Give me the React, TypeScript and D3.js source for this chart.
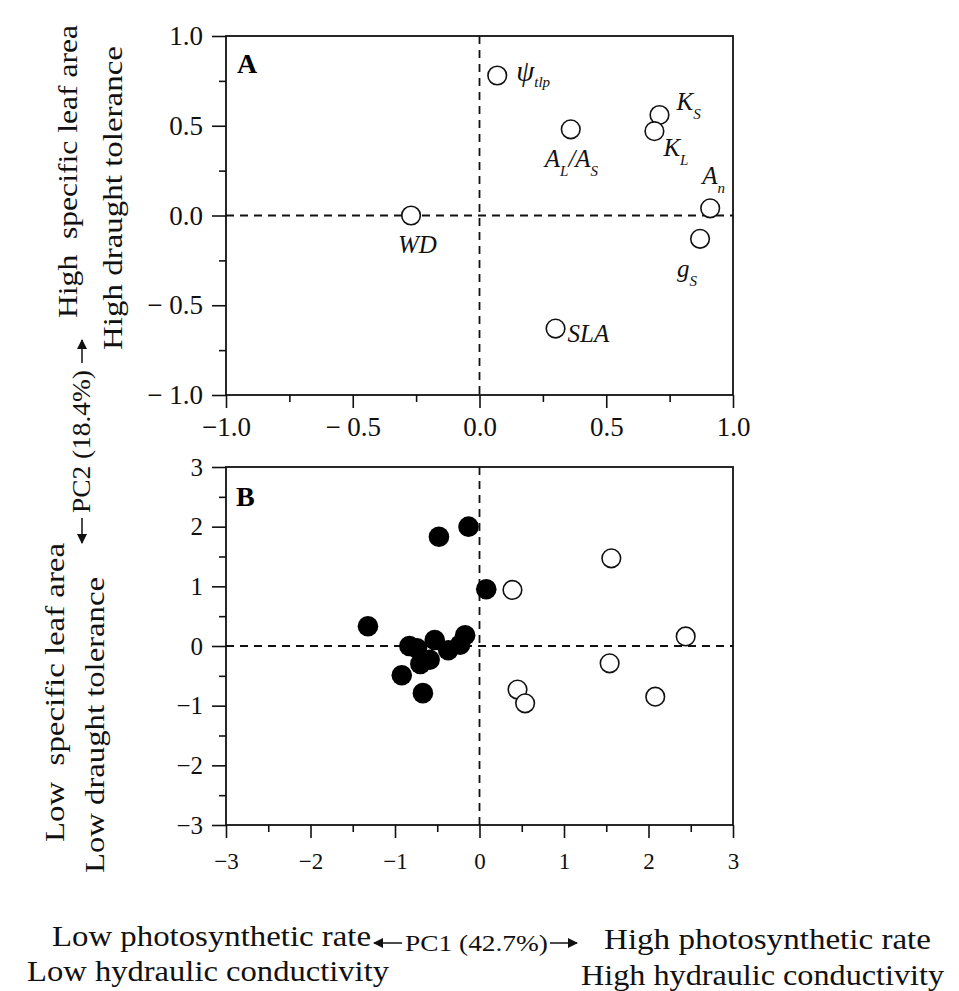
import React, { useEffect, useRef } from 'react';
import * as d3 from 'd3';

// Panel A: trait loadings on PC1 / PC2
const traitKeys = ['psi', 'KS', 'KL', 'ALAS', 'An', 'gS', 'WD', 'SLA'];
const loadingPC1 = [0.07, 0.71, 0.69, 0.36, 0.91, 0.87, -0.27, 0.30];
const loadingPC2 = [0.78, 0.56, 0.47, 0.48, 0.04, -0.13, 0.0, -0.63];
// label text pieces: [text, isSubscript]
const traitLabels: Record<string, [string, boolean][]> = {
  psi: [['ψ', false], ['tlp', true]],
  KS: [['K', false], ['S', true]],
  KL: [['K', false], ['L', true]],
  ALAS: [['A', false], ['L', true], ['/', false], ['A', false], ['S', true]],
  An: [['A', false], ['n', true]],
  gS: [['g', false], ['S', true]],
  WD: [['WD', false]],
  SLA: [['SLA', false]],
};

// Panel B: species scores (filled and open groups)
const filledPC1 = [-0.13, -0.48, 0.08, -1.32, -0.83, -0.74, -0.53, -0.37, -0.17, -0.23, -0.70, -0.59, -0.92, -0.67];
const filledPC2 = [2.0, 1.83, 0.95, 0.33, 0.0, -0.04, 0.10, -0.07, 0.18, 0.02, -0.30, -0.23, -0.49, -0.79];
const openPC1 = [0.39, 1.56, 2.44, 1.54, 0.45, 0.54, 2.08];
const openPC2 = [0.94, 1.47, 0.16, -0.29, -0.73, -0.96, -0.85];

// ticks
const ticksA = [-1, -0.5, 0, 0.5, 1];
const minorTicksA = [-0.75, -0.25, 0.25, 0.75];
const tickLabelsAX = ['−1.0', '− 0.5', '0.0', '0.5', '1.0'];
const tickLabelsAY = ['− 1.0', '− 0.5', '0.0', '0.5', '1.0'];
const ticksB = [-3, -2, -1, 0, 1, 2, 3];
const minorTicksB = [-2.5, -1.5, -0.5, 0.5, 1.5, 2.5];
const tickLabelsB = ['−3', '−2', '−1', '0', '1', '2', '3'];

// label placement relative to the point (layout only)
const labelOffset: Record<string, [number, number, number]> = {
  psi: [19, 6, 6],
  KS: [17, -5, 9],
  KL: [9, 25, 9],
  ALAS: [-26, 38, 9],
  An: [-8, -24, 9],
  gS: [-23, 38, 9],
  WD: [-13, 37, 0],
  SLA: [12, 13, 0],
};

const serif = 'Liberation Serif';

const App = () => {
  const ref = useRef<SVGSVGElement>(null);

  useEffect(() => {
    const svg = d3.select(ref.current);
    svg.selectAll('*').remove();

    const left = 226, right = 733;

    const drawFrame = (g, x, y, tickInfo) => {
      const [x0, x1] = x.range();
      const [y0, y1] = y.range();

      // zero lines
      g.append('line')
        .attr('x1', x(0)).attr('x2', x(0)).attr('y1', y1).attr('y2', y0)
        .attr('stroke', '#111').attr('stroke-width', 1.8).attr('stroke-dasharray', '8,6');
      g.append('line')
        .attr('x1', x0).attr('x2', x1).attr('y1', y(0)).attr('y2', y(0))
        .attr('stroke', '#111').attr('stroke-width', 1.8).attr('stroke-dasharray', '8,6');

      const styleAxis = (a, size) => {
        a.select('.domain').remove();
        a.selectAll('line').attr('stroke', '#111').attr('stroke-width', 1.6);
        a.selectAll('text')
          .attr('fill', '#111')
          .attr('font-family', serif)
          .attr('font-size', size);
      };

      g.append('g')
        .attr('transform', `translate(0,${y0})`)
        .call(d3.axisBottom(x).tickValues(tickInfo.major).tickSize(13).tickPadding(tickInfo.xPad)
          .tickFormat((d, i) => tickInfo.xLabels[i]))
        .call(a => styleAxis(a, tickInfo.xSize));
      g.append('g')
        .attr('transform', `translate(0,${y0})`)
        .call(d3.axisBottom(x).tickValues(tickInfo.minor).tickSize(7).tickFormat(() => ''))
        .call(a => styleAxis(a, tickInfo.xSize));
      g.append('g')
        .attr('transform', `translate(${x0},0)`)
        .call(d3.axisLeft(y).tickValues(tickInfo.major).tickSize(14).tickPadding(tickInfo.yPad)
          .tickFormat((d, i) => tickInfo.yLabels[i]))
        .call(a => styleAxis(a, tickInfo.ySize));
      g.append('g')
        .attr('transform', `translate(${x0},0)`)
        .call(d3.axisLeft(y).tickValues(tickInfo.minor).tickSize(7).tickFormat(() => ''))
        .call(a => styleAxis(a, tickInfo.ySize));

      g.append('rect')
        .attr('x', x0).attr('y', y1).attr('width', x1 - x0).attr('height', y0 - y1)
        .attr('fill', 'none').attr('stroke', '#111').attr('stroke-width', 1.8);
    };

    // ---------- Panel A ----------
    const xA = d3.scaleLinear().domain([-1, 1]).range([left, right]);
    const yA = d3.scaleLinear().domain([-1, 1]).range([395, 36]);
    const gA = svg.append('g');
    drawFrame(gA, xA, yA, {
      major: ticksA, minor: minorTicksA, xLabels: tickLabelsAX, yLabels: tickLabelsAY,
      xPad: 9, yPad: 9, xSize: 27, ySize: 27,
    });

    gA.selectAll('.trait')
      .data(traitKeys)
      .enter()
      .append('circle')
      .attr('cx', (d, i) => xA(loadingPC1[i]))
      .attr('cy', (d, i) => yA(loadingPC2[i]))
      .attr('r', 9.3)
      .attr('fill', 'white')
      .attr('stroke', '#111')
      .attr('stroke-width', 1.6);

    traitKeys.forEach((k, i) => {
      const [dx, dy, shift] = labelOffset[k];
      const t = gA.append('text')
        .attr('x', xA(loadingPC1[i]) + dx)
        .attr('y', yA(loadingPC2[i]) + dy)
        .attr('font-family', serif)
        .attr('font-style', 'italic')
        .attr('fill', '#111');
      let sub = false;
      traitLabels[k].forEach(([s, isSub]) => {
        const size = isSub ? 15 : (s === 'ψ' ? 29 : 25);
        const span = t.append('tspan').text(s).attr('font-size', size);
        if (isSub && !sub) span.attr('dy', shift);
        if (!isSub && sub) span.attr('dy', -shift);
        sub = isSub;
      });
    });

    gA.append('text')
      .attr('x', 237).attr('y', 73)
      .attr('font-family', serif).attr('font-weight', 'bold').attr('font-size', 28)
      .text('A');

    // ---------- Panel B ----------
    const xB = d3.scaleLinear().domain([-3, 3]).range([left, right]);
    const yB = d3.scaleLinear().domain([-3, 3]).range([825, 467]);
    const gB = svg.append('g');
    drawFrame(gB, xB, yB, {
      major: ticksB, minor: minorTicksB, xLabels: tickLabelsB, yLabels: tickLabelsB,
      xPad: 15, yPad: 9, xSize: 23, ySize: 25,
    });

    gB.selectAll('.filled')
      .data(filledPC1)
      .enter()
      .append('circle')
      .attr('cx', d => xB(d))
      .attr('cy', (d, i) => yB(filledPC2[i]))
      .attr('r', 10.3)
      .attr('fill', '#000');

    gB.selectAll('.open')
      .data(openPC1)
      .enter()
      .append('circle')
      .attr('cx', d => xB(d))
      .attr('cy', (d, i) => yB(openPC2[i]))
      .attr('r', 9.3)
      .attr('fill', 'white')
      .attr('stroke', '#111')
      .attr('stroke-width', 1.6);

    gB.append('text')
      .attr('x', 236).attr('y', 506)
      .attr('font-family', serif).attr('font-weight', 'bold').attr('font-size', 28)
      .text('B');

    // ---------- axis titles ----------
    const defs = svg.append('defs');
    defs.append('marker')
      .attr('id', 'head')
      .attr('viewBox', '0 0 10 10')
      .attr('refX', 9).attr('refY', 5)
      .attr('markerWidth', 10).attr('markerHeight', 10)
      .attr('markerUnits', 'userSpaceOnUse')
      .attr('orient', 'auto')
      .append('path').attr('d', 'M0,0L10,5L0,10Z').attr('fill', '#111');

    const vText = (x, y, len, txt, size) => {
      svg.append('text')
        .attr('transform', `translate(${x},${y}) rotate(-90)`)
        .attr('textLength', len)
        .attr('lengthAdjust', 'spacingAndGlyphs')
        .attr('font-family', serif)
        .attr('font-size', size)
        .attr('fill', '#111')
        .style('white-space', 'pre')
        .text(txt);
    };
    vText(77, 318, 293, 'High  specific leaf area', 28);
    vText(122, 350, 304, 'High draught tolerance', 28);
    vText(64, 842, 299, 'Low  specific leaf area', 28);
    vText(104, 873, 296, 'Low draught tolerance', 28);
    vText(90, 513, 143, 'PC2 (18.4%)', 25);

    const arrow = (x1, y1, x2, y2) => {
      svg.append('line')
        .attr('x1', x1).attr('y1', y1).attr('x2', x2).attr('y2', y2)
        .attr('stroke', '#111').attr('stroke-width', 1.5)
        .attr('marker-end', 'url(#head)');
    };
    arrow(82, 363, 82, 340);
    arrow(82, 518, 82, 543);
    arrow(402, 943, 374, 943);
    arrow(550, 943, 577, 943);

    const hText = (x, y, len, txt, size) => {
      svg.append('text')
        .attr('x', x).attr('y', y)
        .attr('textLength', len)
        .attr('lengthAdjust', 'spacingAndGlyphs')
        .attr('font-family', serif)
        .attr('font-size', size)
        .attr('fill', '#111')
        .text(txt);
    };
    hText(52, 946, 319, 'Low photosynthetic rate', 30);
    hText(27, 981, 362, 'Low hydraulic conductivity', 30);
    hText(405, 951, 143, 'PC1 (42.7%)', 24);
    hText(604, 949, 327, 'High photosynthetic rate', 30);
    hText(581, 985, 363, 'High hydraulic conductivity', 30);
  }, []);

  return (
    <svg
      ref={ref}
      width={959}
      height={991}
      style={{ position: 'absolute', left: 0, top: 0, background: 'white' }}
    />
  );
};

export default App;
